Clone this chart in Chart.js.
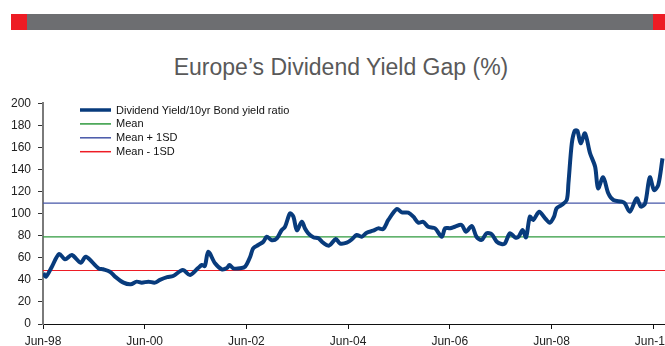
<!DOCTYPE html>
<html>
<head>
<meta charset="utf-8">
<script src="https://cdn.jsdelivr.net/npm/chart.js@4.4.1/dist/chart.umd.min.js"></script>
<style>
  html, body { margin: 0; padding: 0; background: #fff; overflow: hidden; width: 665px; height: 346px; }
  .bar { position: absolute; top: 14px; height: 16px; }
  .bar.red { background: #ed1c24; }
  .bar.grey { background: #6d6e71; left: 27px; width: 626px; }
  #title {
    position: absolute; top: 54px; left: 0; width: 682px; text-align: center;
    font: 23px "Liberation Sans", Arial, sans-serif; color: #595959;
  }
  #wrap { position: absolute; left: 0; top: 0; width: 690px; height: 360px; }
</style>
</head>
<body>
<div class="bar red" style="left:11px;width:16px"></div>
<div class="bar grey"></div>
<div class="bar red" style="left:653px;width:14px"></div>
<div id="title">Europe’s Dividend Yield Gap (%)</div>
<div id="wrap"><canvas id="gapChart" width="690" height="360"></canvas></div>

<script>
// months counted from Jun-98
const monthIdx = [
  0.1, 0.7, 2.1, 3.8, 5.2, 6.8, 8.9, 10.1, 13.1, 14.2, 15.8, 17.0, 19.0, 20.7, 22.1, 23.3,
  24.9, 26.4, 27.6, 29.3, 30.7, 33.0, 34.7, 36.6, 37.5, 38.2, 39.0, 40.6, 42.2, 43.4, 44.0,
  44.9, 46.5, 47.7, 48.9, 49.6, 50.8, 52.0, 52.8, 54.0, 55.2, 56.3, 57.1, 58.3, 59.1, 59.9,
  61.1, 61.8, 62.6, 63.8, 65.0, 66.1, 67.5, 69.1, 70.1, 71.7, 72.9, 74.0, 75.2, 76.4, 77.9,
  79.1, 80.3, 81.5, 83.5, 84.7, 86.2, 87.4, 88.6, 89.7, 90.9, 92.5, 94.1, 94.9, 96.1, 97.2,
  98.8, 99.8, 101.2, 102.3, 103.5, 104.7, 105.9, 107.1, 108.2, 109.0, 110.2, 111.4, 112.2,
  113.2, 114.0, 114.9, 115.7, 117.1, 118.5, 119.6, 120.6, 121.2, 122.4, 123.6, 124.0, 124.8,
  125.5, 126.1, 126.9, 127.9, 129.1, 130.3, 131.0, 132.2, 133.4, 134.6, 136.6, 137.3, 138.5,
  140.1, 141.1, 142.1, 143.2, 144.2, 145.2, 146.2
];
const ratio = [
  46, 43, 52, 63.5, 58.7, 62.5, 55.6, 61, 50.5, 49.6, 47.4, 43, 37.5, 36, 38.4, 37.5,
  38.4, 37.5, 40, 42.5, 43.5, 49, 44.4, 50.7, 53.5, 52.6, 65.5, 55, 49.6, 50.7, 53.5,
  50.5, 50.5, 52, 61, 68.6, 71.6, 74.6, 79.1, 76, 77.7, 85, 88, 100.3, 97.3, 85,
  92.8, 86.8, 82.2, 78.6, 77.7, 73.7, 71, 77, 73, 73.7, 76.8, 80.7, 79.1, 82.8, 84.6,
  86.7, 86.1, 94.3, 104.3, 101.2, 101, 97.3, 91.8, 92.7, 88.2, 86.8, 79.1, 86.8, 86.8, 88.2,
  89.8, 83.7, 88.9, 79.1, 76.2, 82.2, 81.3, 74.6, 72.5, 73, 82.2, 78.6, 79,
  85.2, 78.6, 97.3, 94.3, 101.8, 95.8, 91.8, 97.3, 104.9, 107.9, 112.4, 127.5, 163.8,
  175.3, 175.3, 163.8, 172.9, 154.8, 142.6, 123, 133, 118.5, 112.4, 110.9, 109.4, 101.8,
  113.9, 106.4, 109.4, 133, 121.5, 126, 150.2
];

const bandNames  = ['Mean', 'Mean + 1SD', 'Mean - 1SD'];
const bandValues = [79, 109.5, 48.5];
const bandColors = ['#2f9a3e', '#4656a8', '#ee1c25'];

const tickLabels = ['Jun-98', 'Jun-00', 'Jun-02', 'Jun-04', 'Jun-06', 'Jun-08', 'Jun-10'];
const X_MAX = 150;

const FONT = '"Liberation Sans", Arial, sans-serif';

// legend drawn inside the plot, top-left
const insideLegend = {
  id: 'insideLegend',
  afterDraw(chart) {
    const ctx = chart.ctx;
    ctx.save();
    ctx.font = '11px ' + FONT;
    ctx.textBaseline = 'middle';
    chart.data.datasets.forEach((ds, i) => {
      const y = 110 + i * 13.9;
      ctx.strokeStyle = ds.borderColor;
      ctx.lineWidth = i === 0 ? 3.5 : 1.5;
      ctx.beginPath();
      ctx.moveTo(80, y);
      ctx.lineTo(111, y);
      ctx.stroke();
      ctx.fillStyle = '#111';
      ctx.fillText(ds.label, 116, y + 0.5);
    });
    ctx.restore();
  }
};

const datasets = [{
  label: 'Dividend Yield/10yr Bond yield ratio',
  data: monthIdx.map((m, i) => ({ x: m, y: ratio[i] })),
  borderColor: '#083b7c',
  borderWidth: 4,
  pointRadius: 0,
  tension: 0.3,
  order: 0
}].concat(bandNames.map((name, i) => ({
  label: name,
  data: [{ x: 0, y: bandValues[i] }, { x: X_MAX, y: bandValues[i] }],
  borderColor: bandColors[i],
  borderWidth: 1.2,
  pointRadius: 0,
  order: 1
})));

new Chart(document.getElementById('gapChart'), {
  type: 'line',
  data: { datasets },
  plugins: [insideLegend],
  options: {
    responsive: false,
    animation: false,
    layout: { padding: { top: 103.4, right: 11.4, left: 0, bottom: 0 } },
    plugins: { legend: { display: false }, title: { display: false }, tooltip: { enabled: false } },
    scales: {
      x: {
        type: 'linear',
        min: 0,
        max: X_MAX,
        afterBuildTicks: s => { s.ticks = tickLabels.map((_, i) => ({ value: i * 24 })); },
        afterFit: s => { s.height = 36; },
        border: { color: '#111', width: 1 },
        grid: { drawOnChartArea: false, drawTicks: true, tickLength: 5, color: '#111' },
        ticks: {
          autoSkip: false, maxRotation: 0, padding: 5,
          color: '#222', font: { family: FONT, size: 12 },
          callback: v => tickLabels[Math.round(v / 24)]
        }
      },
      y: {
        min: 0,
        max: 200,
        afterFit: s => { s.width = 43; },
        border: { color: '#7a7a7a', width: 2 },
        grid: { drawOnChartArea: false, drawTicks: true, tickLength: 5, color: '#333' },
        ticks: { stepSize: 20, padding: 7, color: '#222', font: { family: FONT, size: 12 } }
      }
    }
  }
});
</script>
</body>
</html>
